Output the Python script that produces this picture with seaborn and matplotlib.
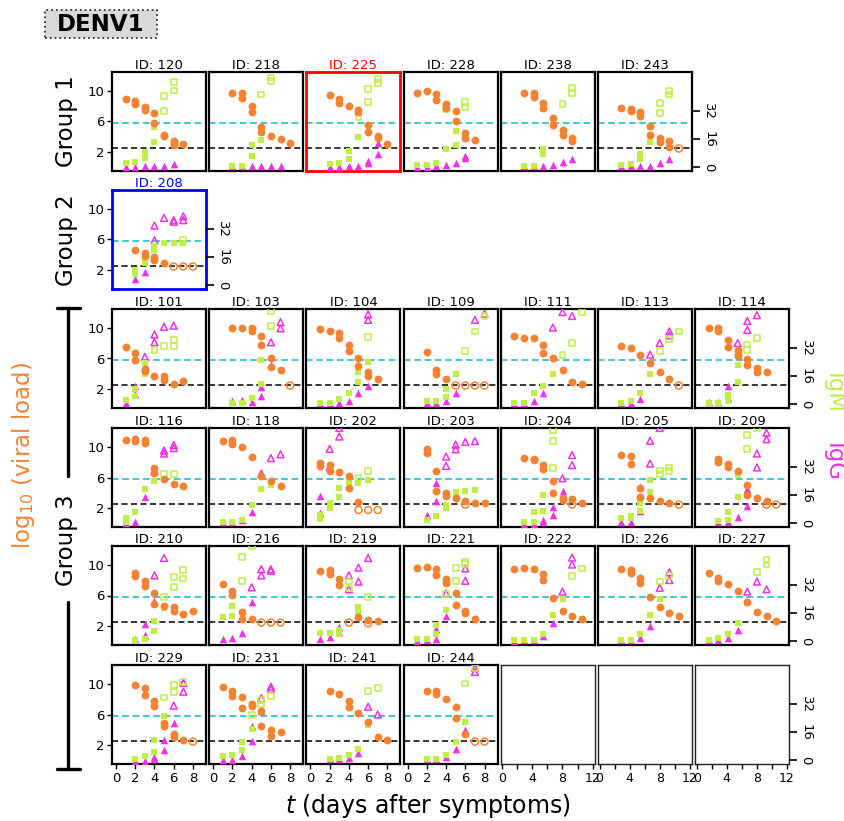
import matplotlib
matplotlib.use("Agg")
import matplotlib.pyplot as plt
import seaborn as sns
import pandas as pd
from matplotlib.lines import Line2D
from matplotlib.patches import Rectangle

# ---------------- data (day, value[, 1 = open marker]) ----------------
# values on the viral-load scale of each panel (left axis units)
vl_120 = [(1,8.9),(2,8.6),(2,8.2),(3,7.9),(3,7.5),(4,7.1),(4,5.85),(5,4.3),(5,4.1),(6,3.5),(6,3.2),(6,2.9),(7,3.05)]
igm_120 = [(1,0.6),(2,0.7),(3,2.0),(3,1.3),(4,5.3),(4,3.4),(5,9.25,1),(5,7.4,1),(6,11.15,1),(6,10.0,1)]
igg_120 = [(1,0.15),(2,0.15),(3,0.2),(4,0.2),(5,0.3),(6,0.5)]

vl_218 = [(2,9.7),(3,9.7),(3,9.1),(4,8.0),(4,7.2),(5,5.3),(5,4.6),(6,4.1),(7,3.7),(8,3.2)]
igm_218 = [(2,0.3),(3,0.3),(4,1.5),(4,3.0),(5,3.6),(5,5.2),(5,9.5,1),(6,11.2,1),(6,11.7,1)]
igg_218 = [(2,0.2),(3,0.2),(4,0.2),(5,0.2),(6,0.3),(7,0.3)]

vl_225 = [(2,9.4),(3,8.87),(3,8.35),(4,8.0),(5,7.5),(5,7.2),(6,5.6),(6,4.65),(7,4.1),(7,3.9),(8,3.1)]
igm_225 = [(2,0.55),(3,0.65),(4,2.15),(4,1.1),(5,4.0),(5,6.6,1),(6,8.5,1),(6,10.25,1),(7,11.0,1),(7,11.45,1)]
igg_225 = [(2,0.15),(3,0.15),(4,0.3),(5,0.3),(6,0.9),(6,0.6),(7,1.8),(7,3.2)]

vl_228 = [(1,9.7),(2,9.9),(3,9.55),(3,8.8),(4,8.3),(4,7.8),(5,7.3),(5,6.0),(6,4.55),(6,3.9),(7,3.6)]
igm_228 = [(1,0.4),(2,0.4),(3,0.6),(4,7.65,1),(4,2.4),(5,4.8),(5,3.0),(6,8.5,1),(6,7.9,1)]
igg_228 = [(1,0.15),(2,0.15),(3,0.2),(4,0.4),(5,0.6),(6,1.3),(6,1.5)]

vl_238 = [(2,9.7),(3,9.7),(3,9.2),(4,8.4),(4,7.8),(5,6.5),(5,5.6),(6,4.9),(6,4.3),(7,3.9),(7,3.5)]
igm_238 = [(2,0.3),(3,0.3),(4,1.8),(4,2.5),(5,5.5),(6,8.3,1),(7,9.7,1),(7,10.3,1)]
igg_238 = [(2,0.2),(3,0.2),(4,0.3),(5,0.4),(6,0.8),(7,1.2)]

vl_243 = [(2,7.7),(3,7.66),(3,7.35),(4,7.27),(4,6.7),(5,5.4),(5,4.2),(6,3.87),(6,3.3),(7,3.5),(7,2.75),(8,2.5,1)]
igm_243 = [(2,0.4),(3,0.5),(4,1.8),(4,1.1),(5,5.3),(5,3.4),(6,8.35,1),(6,7.1,1),(7,9.9,1),(7,9.5,1)]
igg_243 = [(2,0.2),(3,0.2),(4,0.3),(5,0.3),(6,0.6),(7,1.2)]

vl_208 = [(2,4.65),(3,4.2),(3,3.9),(4,3.8),(4,3.4),(5,3.0),(6,2.5,1),(7,2.5,1),(8,2.5,1)]
igm_208 = [(2,2.05),(2,1.6),(3,3.6),(3,3.0),(4,5.2),(4,4.65),(5,5.6),(6,5.55),(7,5.55),(7,5.9,1)]
igg_208 = [(2,0.9),(3,1.75),(4,5.9,1),(4,7.8,1),(5,8.8,1),(6,8.5,1),(6,8.3,1),(7,9.0,1),(7,8.5,1)]

vl_101 = [(1,7.5),(2,6.7),(2,5.75),(3,4.65),(3,4.4),(4,3.8),(5,3.8),(5,3.2),(6,2.65),(7,3.1)]
igm_101 = [(1,0.6),(2,2.1),(2,1.1),(3,5.4),(3,3.95),(4,7.05,1),(5,7.65,1),(6,7.65,1),(6,8.4,1)]
igg_101 = [(1,0.2),(2,2.5),(2,1.35),(3,4.5),(3,6.2,1),(4,8.1,1),(4,9.1,1),(5,10.1,1),(6,10.25,1)]

vl_103 = [(2,9.9),(3,9.9),(4,9.9),(4,9.6),(5,8.95),(5,7.8),(6,6.0),(6,4.95),(7,4.5),(8,2.5,1)]
igm_103 = [(2,0.3),(3,0.3),(4,0.85),(5,5.75),(5,2.7),(6,10.2,1),(6,12.1,1)]
igg_103 = [(2,0.45),(3,0.6),(4,0.35),(5,2.3),(5,1.1),(6,5.1),(6,8.1,1),(7,10.7,1),(7,9.9,1)]

vl_104 = [(1,9.8),(2,9.6),(3,9.3),(3,8.6),(4,7.8),(4,7.0),(5,6.0),(5,5.0),(6,4.2),(6,3.7),(7,3.4)]
igm_104 = [(1,0.3),(2,0.3),(3,0.8),(4,1.5),(5,3.0),(5,4.3),(6,5.5),(6,8.8,1)]
igg_104 = [(1,0.2),(2,0.2),(3,0.3),(4,0.5),(5,1.5),(6,2.5),(6,11.0,1),(6,11.7,1)]

vl_109 = [(2,6.9),(3,4.5),(3,4.0),(4,3.3),(5,2.5,1),(6,2.5,1),(7,2.5,1),(8,2.5,1)]
igm_109 = [(2,0.5),(3,0.5),(4,1.0),(4,2.0),(5,4.0),(6,7.0,1),(7,9.5,1),(8,11.5,1)]
igg_109 = [(2,0.3),(3,0.3),(4,0.5),(5,1.5),(7,11.0,1),(8,11.8,1)]

vl_111 = [(1,8.9),(2,8.6),(3,8.7),(4,7.7),(4,6.7),(5,6.0),(6,4.5),(7,3.0),(8,2.7)]
igm_111 = [(1,0.3),(2,0.3),(3,1.5),(4,2.5),(5,4.0),(6,6.5,1),(7,8.0,1),(8,12.0,1)]
igg_111 = [(1,0.2),(2,0.3),(3,0.5),(4,1.5),(5,10.0,1),(6,12.0,1),(7,11.5,1)]

vl_113 = [(2,7.6),(3,7.3),(4,6.5),(5,5.4),(6,4.3),(7,3.4),(8,2.5,1)]
igm_113 = [(2,0.3),(3,0.5),(4,1.5),(5,4.0),(6,7.0,1),(7,8.5,1),(8,9.5,1)]
igg_113 = [(2,0.2),(3,0.3),(4,0.8),(5,6.5,1),(6,8.0,1),(7,9.0,1),(7,9.5,1)]

vl_114 = [(1,10.0),(2,9.9),(2,9.5),(3,8.35),(3,7.5),(4,7.05),(4,6.6),(4,6.3),(5,5.9),(5,5.15),(6,4.8),(6,4.2),(7,4.2)]
igm_114 = [(1,0.25),(2,0.3),(3,1.3),(3,0.5),(4,5.1),(4,3.0),(5,7.8,1),(5,7.1,1),(6,8.7,1)]
igg_114 = [(1,0.4),(2,0.4),(3,2.4),(3,0.85),(4,8.0,1),(5,9.7,1),(5,10.85,1),(6,11.6,1)]

vl_116 = [(1,10.8),(2,11.0),(2,10.7),(3,10.8),(3,10.4),(4,7.2),(4,6.6),(5,5.8),(6,5.2),(7,4.9)]
igm_116 = [(1,0.2),(1,0.7),(2,1.5),(3,4.5),(4,5.5),(4,7.0,1),(5,6.5,1),(6,6.5,1)]
igg_116 = [(1,0.1),(2,0.3),(3,3.5),(4,6.8,1),(5,9.1,1),(5,9.5,1),(6,9.8,1),(6,10.2,1)]

vl_118 = [(1,10.7),(2,10.9),(2,10.3),(3,10.0),(4,8.7),(5,6.2),(6,5.5),(7,4.9)]
igm_118 = [(1,0.2),(2,0.3),(3,0.5),(4,2.5),(5,4.5),(6,5.0)]
igg_118 = [(1,0.2),(2,0.3),(3,0.5),(4,1.5),(5,6.5,1),(6,8.5,1),(7,9.0,1)]

vl_202 = [(1,7.83),(1,7.5),(2,7.57),(2,6.9),(3,6.7),(4,6.2),(4,4.65),(5,2.85),(5,1.8,1),(6,1.8,1),(7,1.8,1)]
igm_202 = [(1,1.1),(1,0.68),(2,2.65),(2,2.0),(3,4.7),(3,3.5),(4,5.4),(5,5.3),(6,5.7),(5,5.9,1),(6,6.8,1)]
igg_202 = [(1,3.6),(1,1.4),(2,7.3,1),(2,9.7,1),(3,11.3,1),(3,12.4,1)]

vl_203 = [(2,9.7),(2,9.2),(3,6.9),(3,4.3),(4,4.0),(4,3.6),(5,3.35),(6,3.0),(6,2.5,1),(7,2.75),(8,2.65)]
igm_203 = [(2,0.5),(3,1.0),(4,2.5),(4,2.05),(5,4.1),(6,4.3),(7,4.4)]
igg_203 = [(2,1.1),(3,5.25),(3,3.0),(4,7.5,1),(4,8.7,1),(5,9.65,1),(5,10.25,1),(6,10.6,1),(7,10.7,1)]

vl_204 = [(2,8.5),(3,8.4),(3,8.2),(4,7.65),(4,7.05),(5,5.6),(5,4.0),(6,3.35),(6,3.1),(7,3.2),(7,2.5,1),(8,2.65)]
igm_204 = [(2,0.25),(3,0.25),(3,1.55),(4,1.7),(4,3.8),(5,10.75,1),(5,7.2,1),(5,12.1,1)]
igg_204 = [(2,0.05),(3,0.05),(4,0.5),(4,0.25),(5,1.2),(5,2.2),(6,4.2),(6,5.9,1),(7,7.6,1),(7,8.9,1)]

vl_205 = [(2,8.95),(3,8.8),(3,7.8),(4,4.65),(4,3.45),(5,3.3),(6,2.9),(7,2.65),(8,2.5,1)]
igm_205 = [(2,0.8),(3,0.8),(3,1.0),(4,1.7),(4,2.75),(5,4.1),(5,5.7),(6,6.9,1),(6,6.45,1),(7,7.3,1),(7,6.8,1)]
igg_205 = [(2,0.3),(3,0.3),(4,1.7),(4,4.8),(5,7.8,1),(5,10.75,1),(6,12.4,1)]

vl_209 = [(2,8.4),(2,8.0),(3,7.75),(3,7.3),(4,6.8),(5,5.0),(5,3.8),(6,3.4),(7,2.9),(7,2.5,1),(8,2.5,1)]
igm_209 = [(2,0.4),(3,0.5),(3,1.5),(4,6.3),(4,3.5),(5,9.7,1),(5,11.45,1),(6,12.4,1)]
igg_209 = [(2,0.25),(3,0.25),(4,0.85),(5,4.55),(5,2.3),(6,7.3,1),(6,9.1,1),(7,10.95,1),(7,11.8,1)]

vl_210 = [(2,8.95),(2,8.5),(3,7.9),(3,7.2),(4,6.35),(4,4.9),(5,4.7),(6,4.5),(6,4.0),(7,3.6),(8,3.95)]
igm_210 = [(2,0.25),(3,0.4),(4,2.65),(4,1.45),(5,4.4),(5,5.85,1),(6,8.35,1),(6,7.1,1),(7,9.3,1),(7,8.2,1)]
igg_210 = [(2,0.4),(3,2.3),(3,0.85),(4,5.25),(4,8.6,1),(5,10.85,1)]

vl_216 = [(1,7.5),(2,6.6),(2,6.1),(3,3.85),(3,2.9),(4,2.9),(5,2.5,1),(6,2.5,1),(7,2.5,1)]
igm_216 = [(1,3.2),(2,4.7),(2,3.4),(3,7.9,1),(3,11.0,1),(4,12.4,1)]
igg_216 = [(1,0.4),(2,0.5),(3,1.1),(4,5.1),(4,7.05,1),(5,9.4,1),(5,8.6,1),(6,9.4,1),(6,9.2,1)]

vl_219 = [(1,9.2),(2,9.3),(2,8.8),(3,8.1),(3,7.4),(4,2.5,1),(5,3.2),(6,2.85),(6,2.4,1),(7,2.75)]
igm_219 = [(1,1.2),(2,1.2),(3,1.5),(3,1.0),(4,7.8,1),(4,6.9,1),(5,4.55),(5,3.7),(6,5.85,1)]
igg_219 = [(1,0.4),(2,0.6),(3,1.9),(3,1.3),(4,8.6,1),(4,6.8,1),(5,9.6,1),(5,7.8,1),(6,10.85,1)]

vl_221 = [(1,9.55),(2,9.7),(3,9.45),(3,8.7),(4,8.1),(4,7.65),(5,6.35),(5,4.8),(6,4.0),(6,3.7),(7,3.0)]
igm_221 = [(1,0.35),(2,0.4),(3,2.15),(3,1.0),(4,4.1),(4,6.2,1),(5,9.55,1),(5,7.9,1),(6,10.3,1),(6,10.05,1)]
igg_221 = [(1,0.1),(2,0.25),(3,0.35),(3,1.7),(4,3.4),(4,6.3,1),(6,9.5,1),(6,7.9,1)]

vl_222 = [(1,9.4),(2,9.6),(3,9.4),(4,8.8),(4,8.0),(5,5.7),(6,4.0),(7,3.4),(8,3.0)]
igm_222 = [(1,0.2),(2,0.2),(3,0.3),(4,1.0),(5,3.5),(6,5.5),(7,8.5,1),(8,9.5,1)]
igg_222 = [(1,0.1),(2,0.2),(3,0.3),(4,0.8),(5,2.5),(6,6.5,1),(7,10.9,1),(7,10.0,1)]

vl_226 = [(2,9.4),(3,9.3),(3,8.9),(4,8.2),(4,7.6),(5,5.8),(6,4.5),(7,3.8),(8,3.3)]
igm_226 = [(2,0.3),(3,0.3),(4,1.0),(5,3.5),(6,5.5),(6,7.8,1),(7,8.5,1)]
igg_226 = [(2,0.2),(3,0.2),(4,0.5),(5,2.0),(6,7.0,1),(7,9.0,1),(7,8.0,1)]

vl_227 = [(1,8.9),(2,8.3),(2,7.9),(3,7.5),(4,6.6),(5,5.2),(6,3.9),(7,3.4),(8,2.7)]
igm_227 = [(1,0.3),(2,0.5),(3,1.0),(4,2.5),(5,5.0),(6,9.0,1),(7,10.0,1),(7,10.6,1)]
igg_227 = [(1,0.2),(2,0.3),(3,0.5),(4,1.5),(5,6.5,1),(6,7.8,1),(7,6.8,1)]

vl_229 = [(2,9.8),(3,9.4),(3,8.5),(4,7.75),(4,7.05),(5,4.9),(5,4.55),(6,3.5),(6,3.1),(7,2.65),(8,2.5,1)]
igm_229 = [(2,0.3),(3,0.6),(4,1.2),(4,2.75),(5,5.75),(5,8.2,1),(6,9.8,1),(6,8.95,1),(7,10.25,1)]
igg_229 = [(2,0.05),(3,0.05),(4,0.5),(4,0.25),(5,1.45),(5,2.75),(6,4.9),(6,7.15,1),(7,8.95,1),(7,10.1,1)]

vl_231 = [(1,9.5),(2,9.1),(2,8.4),(3,8.2),(3,6.9),(4,7.4),(4,7.05),(5,6.4),(5,4.55),(6,4.05),(6,3.2),(7,3.7)]
igm_231 = [(1,0.6),(2,0.7),(3,2.5),(3,1.4),(4,4.1),(4,5.9,1),(5,7.9,1),(5,7.3,1),(6,8.4,1)]
igg_231 = [(1,0.1),(2,0.1),(3,0.6),(4,2.6),(4,4.5),(5,6.45),(5,8.1,1),(6,9.6,1),(6,9.3,1)]

vl_241 = [(2,9.1),(3,8.6),(4,7.7),(4,7.0),(5,6.2),(6,5.0),(7,3.1),(8,2.7)]
igm_241 = [(2,0.3),(3,0.4),(4,0.7),(5,1.6),(6,4.7),(6,9.0,1),(7,9.4,1)]
igg_241 = [(2,0.2),(3,0.3),(4,0.4),(5,1.0),(6,7.0,1),(7,6.0,1)]

vl_244 = [(2,9.1),(3,9.1),(3,8.6),(4,8.0),(5,7.0),(5,5.5),(6,3.5),(7,2.5,1),(8,2.5,1)]
igm_244 = [(2,0.3),(3,0.3),(4,0.8),(5,2.5),(6,5.0),(6,10.0,1),(7,12.0,1)]
igg_244 = [(2,0.2),(3,0.2),(4,0.5),(5,1.5),(6,4.0),(7,11.5,1),(7,12.0,1)]

# panel arrangement (rows of ids; None = empty panel)
row_g1 = [120, 218, 225, 228, 238, 243]
row_g2 = [208]
row_g3a = [101, 103, 104, 109, 111, 113, 114]
row_g3b = [116, 118, 202, 203, 204, 205, 209]
row_g3c = [210, 216, 219, 221, 222, 226, 227]
row_g3d = [229, 231, 241, 244, None, None, None]
highlight = {225: 'red', 208: 'blue'}

vl_ticks = [2, 6, 10]
ab_ticks = [0, 16, 32]
day_ticks = [0, 2, 4, 6, 8]
VL_LOD = 2.6
AB_CUT = 5.8

ORANGE = '#f58231'
GREEN = '#bfef45'
MAGENTA = '#f032e6'

# ---------------- figure ----------------
sns.set_theme(style="ticks", rc={"axes.edgecolor": "black", "xtick.color": "black",
                                  "ytick.color": "black", "text.color": "black"})
plt.rcParams['font.family'] = ['DejaVu Sans']

W, H = 844, 821
fig = plt.figure(figsize=(W / 100, H / 100), dpi=100)

PW, PH = 94, 99
col_x = [112 + 97.2 * c for c in range(7)]
row_top = [72, 190, 309, 428, 546, 665]
YLIM = (-0.4, 12.4)
XLIM = (-0.42, 9.36)
A, B = 4.475, -0.67  # right axis = A*left + B


def new_ax(r, c):
    x = col_x[c]
    y = row_top[r]
    return fig.add_axes([x / W, 1 - (y + PH) / H, PW / W, PH / H])


def draw_series(ax, pts, color, marker, s):
    df = pd.DataFrame([(p[0], p[1], len(p) > 2) for p in pts], columns=['day', 'val', 'open'])
    filled = df[~df['open']]
    hollow = df[df['open']]
    if len(filled):
        sns.scatterplot(data=filled, x='day', y='val', ax=ax, color=color, marker=marker,
                        s=s, linewidth=0, zorder=3)
    if len(hollow):
        sns.scatterplot(data=hollow, x='day', y='val', ax=ax, color=color, marker=marker,
                        s=s * 0.8, facecolor='none', edgecolor=color, linewidth=1.1, zorder=3)


rows = [row_g1, row_g2, row_g3a, row_g3b, row_g3c, row_g3d]
for r, ids in enumerate(rows):
    last = len(ids) - 1
    for c, pid in enumerate(ids):
        ax = new_ax(r, c)
        bottom_row = (r == len(rows) - 1)
        if pid is None:
            ax.set_xlim(-0.2, 12.3)
            ax.set_ylim(YLIM)
            ax.set_xticks(range(0, 13, 2))
            ax.set_xticklabels(['0', '', '4', '', '8', '', '12'], fontsize=9)
            ax.set_yticks([])
            ax.tick_params(axis='x', length=3.5, width=1, pad=2)
            for sp in ax.spines.values():
                sp.set_linewidth(1.0)
                sp.set_color('#222222')
        else:
            vl = globals()['vl_%d' % pid]
            igm = globals()['igm_%d' % pid]
            igg = globals()['igg_%d' % pid]
            ax.axhline(VL_LOD, color='black', ls='--', lw=1.1, zorder=1, dashes=(4, 2.2))
            ax.axhline(AB_CUT, color='#9a9a9a', ls='--', lw=1.2, zorder=1, dashes=(4, 2.2))
            ax.axhline(AB_CUT, color='#22d8e0', ls='--', lw=1.2, zorder=1, dashes=(3.4, 2.8))
            draw_series(ax, igg, MAGENTA, '^', 30)
            draw_series(ax, igm, GREEN, 's', 22)
            draw_series(ax, vl, ORANGE, 'o', 32)
            ax.set_xlim(XLIM)
            ax.set_ylim(YLIM)
            ax.set_xlabel('')
            ax.set_ylabel('')
            col = highlight.get(pid, 'black')
            ax.set_title('ID: %d' % pid, fontsize=9.5, pad=2.5, color=col)
            for sp in ax.spines.values():
                sp.set_linewidth(1.6 if col == 'black' else 2.0)
                sp.set_color(col)
            if bottom_row:
                ax.set_xticks(day_ticks)
                ax.set_xticklabels([str(t) for t in day_ticks], fontsize=9.5)
                ax.tick_params(axis='x', length=3.5, width=1, pad=2)
            else:
                ax.set_xticks([])
            if c == 0:
                ax.set_yticks(vl_ticks)
                ax.set_yticklabels([str(t) for t in vl_ticks], fontsize=9.5)
                ax.tick_params(axis='y', length=3.5, width=1, pad=2)
            else:
                ax.set_yticks([])
        if c == last:
            ax2 = ax.twinx()
            ax2.set_ylim(YLIM[0] * A + B, YLIM[1] * A + B)
            ax2.set_yticks(ab_ticks)
            ax2.set_yticklabels([str(t) for t in ab_ticks], fontsize=9.5, rotation=270, va='center')
            ax2.tick_params(axis='y', length=6, width=1.2, pad=1.5)
            for sp in ax2.spines.values():
                sp.set_visible(False)

# ---------------- annotations ----------------
def fx(x):
    return x / W


def fy(y):
    return 1 - y / H


fig.add_artist(Rectangle((fx(45), fy(38)), fx(157) - fx(45), fy(10) - fy(38),
                         transform=fig.transFigure, fc='#d9d9d9', ec='#333333', ls=':', lw=1.3))
fig.text(fx(101), fy(24.5), 'DENV1', fontsize=16.5, fontweight='bold', ha='center', va='center')

fig.text(fx(67), fy(121), 'Group 1', fontsize=16.5, rotation=90, ha='center', va='center')
fig.text(fx(67), fy(240), 'Group 2', fontsize=16.5, rotation=90, ha='center', va='center')
fig.text(fx(67), fy(540), 'Group 3', fontsize=16.5, rotation=90, ha='center', va='center')

for (y0, y1) in [(308, 476), (602, 769)]:
    fig.add_artist(Line2D([fx(68), fx(68)], [fy(y0), fy(y1)], color='black', lw=2.4))
fig.add_artist(Line2D([fx(57), fx(80)], [fy(308), fy(308)], color='black', lw=2.4))
fig.add_artist(Line2D([fx(57), fx(80)], [fy(769), fy(769)], color='black', lw=2.4))

fig.text(fx(24), fy(455), r'log$_{10}$ (viral load)', fontsize=16.5, rotation=90,
         ha='center', va='center', color=ORANGE)
fig.text(fx(833), fy(462), 'IgG', fontsize=16.5, rotation=270, ha='center', va='center', color=MAGENTA)
fig.text(fx(833), fy(393), 'IgM', fontsize=16.5, rotation=270, ha='center', va='center', color=GREEN)

fig.text(fx(428), fy(806), r'$t$ (days after symptoms)', fontsize=17, ha='center', va='center')

fig.savefig('out.png', dpi=100)
